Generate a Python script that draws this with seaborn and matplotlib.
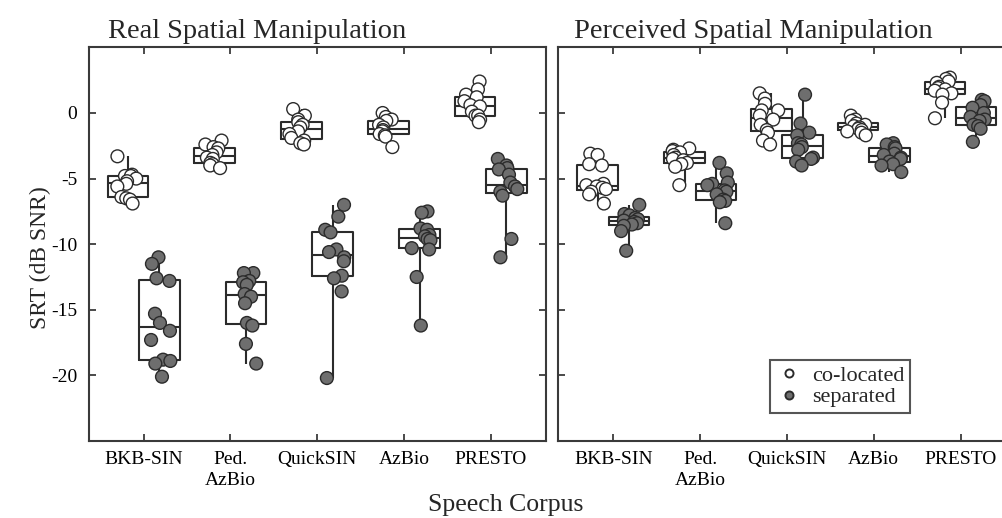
import numpy as np
import pandas as pd
import matplotlib
matplotlib.use("Agg")
import matplotlib.pyplot as plt
import seaborn as sns
from matplotlib.lines import Line2D

# ---------------- data ----------------
categories = ["BKB-SIN", "Ped.\nAzBio", "QuickSIN", "AzBio", "PRESTO"]
conditions = ["co-located", "separated"]
panel_titles = ["Real Spatial Manipulation", "Perceived Spatial Manipulation"]

real_colocated = [
    [-3.3, -4.7, -4.8, -4.8, -5.0, -5.2, -5.4, -5.6, -6.4, -6.5, -6.6, -6.9],
    [-2.1, -2.4, -2.6, -2.7, -3.0, -3.2, -3.4, -3.5, -3.8, -3.9, -4.0, -4.2],
    [0.3, -0.2, -0.5, -0.7, -0.9, -1.1, -1.4, -1.6, -1.9, -2.1, -2.3, -2.4],
    [0.0, -0.3, -0.5, -0.6, -0.9, -1.1, -1.3, -1.4, -1.6, -1.7, -1.8, -2.6],
    [2.4, 1.8, 1.4, 1.2, 0.9, 0.6, 0.5, 0.1, -0.2, -0.2, -0.5, -0.7],
]
real_separated = [
    [-11.0, -11.5, -12.6, -12.8, -15.3, -16.0, -16.6, -17.3, -18.8, -18.9, -19.1, -20.1],
    [-12.2, -12.2, -12.8, -12.9, -13.1, -13.8, -14.0, -14.5, -16.0, -16.2, -17.6, -19.1],
    [-7.0, -7.9, -8.9, -9.1, -10.4, -10.6, -11.0, -11.3, -12.4, -12.6, -13.6, -20.2],
    [-7.5, -7.6, -8.8, -8.9, -9.3, -9.4, -9.6, -9.7, -10.3, -10.4, -12.5, -16.2],
    [-3.5, -4.0, -4.2, -4.3, -4.7, -5.3, -5.6, -5.8, -6.0, -6.3, -9.6, -11.0],
]
perceived_colocated = [
    [-3.1, -3.2, -3.9, -4.0, -5.4, -5.5, -5.6, -5.7, -5.8, -6.0, -6.2, -6.9],
    [-2.7, -2.8, -2.9, -3.0, -3.2, -3.4, -3.5, -3.6, -3.8, -3.9, -4.1, -5.5],
    [1.5, 1.1, 0.7, 0.2, 0.2, -0.2, -0.5, -0.9, -1.3, -1.5, -2.1, -2.4],
    [-0.2, -0.5, -0.6, -0.8, -0.9, -1.0, -1.1, -1.2, -1.3, -1.4, -1.5, -1.7],
    [2.7, 2.6, 2.4, 2.3, 2.0, 1.9, 1.8, 1.7, 1.5, 1.4, 0.8, -0.4],
]
perceived_separated = [
    [-7.0, -7.7, -7.8, -8.0, -8.1, -8.2, -8.3, -8.4, -8.5, -8.6, -9.0, -10.5],
    [-3.8, -4.6, -5.3, -5.4, -5.5, -5.9, -6.0, -6.2, -6.6, -6.7, -6.8, -8.4],
    [1.4, -0.8, -1.5, -1.7, -2.3, -2.4, -2.6, -2.8, -3.4, -3.5, -3.7, -4.0],
    [-2.3, -2.4, -2.6, -2.7, -3.1, -3.2, -3.4, -3.5, -3.7, -3.9, -4.0, -4.5],
    [1.0, 0.9, 0.6, 0.4, 0.0, -0.3, -0.5, -0.6, -0.9, -1.0, -1.2, -2.2],
]
y_ticks = [0, -5, -10, -15, -20]
y_label = "SRT (dB SNR)"
x_label = "Speech Corpus"


def build_frame(colocated, separated):
    rows = []
    for cond, groups in zip(conditions, [colocated, separated]):
        for cat, vals in zip(categories, groups):
            for v in vals:
                rows.append({"corpus": cat, "condition": cond, "srt": v})
    return pd.DataFrame(rows)


frames = [build_frame(real_colocated, real_separated),
          build_frame(perceived_colocated, perceived_separated)]

# ---------------- style ----------------
sns.set_theme(style="ticks")
plt.rcParams["font.family"] = ["Liberation Serif", "DejaVu Serif"]
plt.rcParams["axes.unicode_minus"] = False

W, H = 1003, 518
fig = plt.figure(figsize=(W / 100, H / 100), dpi=100)
fig.patch.set_facecolor("white")

ax_w, ax_h = 457.8 / W, 393.6 / H
ax_bottom = (H - 441) / H
axes = [fig.add_axes([88.5 / W, ax_bottom, ax_w, ax_h]),
        fig.add_axes([558.3 / W, ax_bottom, ax_w, ax_h])]

line_col = "#2b2b2b"
point_fill = {"co-located": "white", "separated": "#6e6e6e"}
box_cols = {c: line_col for c in conditions}

np.random.seed(7)
for i, (ax, df, title) in enumerate(zip(axes, frames, panel_titles)):
    sns.boxplot(data=df, x="corpus", y="srt", hue="condition",
                order=categories, hue_order=conditions, dodge=True,
                width=0.72, gap=-0.3, fill=False, palette=box_cols,
                linewidth=1.5, whis=(0, 100), showcaps=False,
                showfliers=False, legend=False, ax=ax)
    sns.stripplot(data=df, x="corpus", y="srt", hue="condition",
                  order=categories, hue_order=conditions, dodge=True,
                  jitter=0.24, palette=point_fill, size=9.2,
                  edgecolor=line_col, linewidth=1.0, legend=False,
                  ax=ax, zorder=3)
    ax.set_xlim(-0.635, 4.64)
    ax.set_ylim(-25, 5)
    ax.set_yticks(y_ticks)
    ax.set_xlabel("")
    ax.set_ylabel("")
    ax.tick_params(direction="in", top=True, right=True, length=5,
                   width=1.2, colors=line_col, labelcolor="black",
                   labelsize=14)
    ax.tick_params(axis="x", pad=7)
    ax.tick_params(axis="y", pad=8)
    for lbl in ax.get_xticklabels():
        lbl.set_linespacing(1.3)
    for sp in ax.spines.values():
        sp.set_visible(True)
        sp.set_linewidth(1.5)
        sp.set_color("#3a3a3a")
    if i == 1:
        ax.tick_params(axis="y", labelleft=False)
    ax.text(0.043 if i == 0 else 0.035, 1.025, title, transform=ax.transAxes,
            fontsize=20.5, ha="left", va="baseline")

fig.text(40 / W, 1 - 258 / H, y_label, rotation=90, ha="center",
         va="center", fontsize=17)
fig.text(506 / W, 1 - 505 / H, x_label, ha="center", va="center",
         fontsize=18.5)

handles = [Line2D([], [], marker="o", ls="", markerfacecolor=point_fill[c],
                  markeredgecolor=line_col, markersize=5.8,
                  markeredgewidth=1.4) for c in conditions]
leg = axes[1].legend(handles, conditions, loc="lower left",
                     bbox_to_anchor=(0.462, 0.071), frameon=True,
                     fontsize=16, handletextpad=0.45, borderpad=0.25,
                     labelspacing=0.05, handlelength=1.2, fancybox=False,
                     edgecolor=line_col, borderaxespad=0)
leg.get_frame().set_linewidth(1.5)

fig.savefig("out.png", dpi=100, facecolor="white")
